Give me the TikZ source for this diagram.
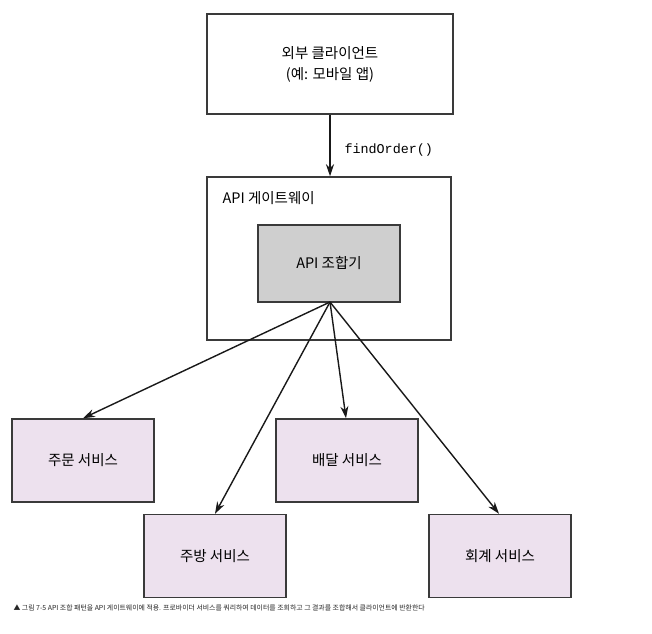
\documentclass[tikz,border=0pt]{standalone}
\usepackage{fontspec}
\setmainfont{Noto Sans CJK KR}
\newfontfamily\monof{Liberation Mono}
\usetikzlibrary{arrows.meta}
\definecolor{svcfill}{HTML}{EDE1EE}
\definecolor{aggfill}{HTML}{CFCFCF}
\definecolor{boxline}{HTML}{3A3A3A}
\begin{document}
\begin{tikzpicture}[x=1pt,y=-1pt,
  box/.style={draw=boxline,line width=1.5pt,inner sep=0pt},
  svc/.style={box,fill=svcfill,minimum width=142pt,minimum height=83pt,font=\fontsize{14.5}{17}\selectfont},
  conn/.style={line width=1.4pt,draw=black!90,-{Stealth[length=12pt,width=8pt]}}]
\useasboundingbox[fill=white] (0,0) rectangle (652,633);
\node[box,minimum width=246pt,minimum height=100pt,align=center,font=\fontsize{14.5}{21}\selectfont] (client) at (330,64) {외부 클라이언트\\(예: 모바일 앱)};
\node[box,minimum width=244pt,minimum height=163pt] (gw) at (329,258.5) {};
\node[anchor=base west,font=\fontsize{14.5}{17}\selectfont] (gwl) at (219,203) {API 게이트웨이};
\node[box,fill=aggfill,minimum width=142pt,minimum height=77pt,font=\fontsize{14.5}{17}\selectfont] (agg) at (329,263.5) {API 조합기};
\node[svc] (order) at (83,460.5) {주문 서비스};
\node[svc] (deliv) at (347,460.5) {배달 서비스};
\node[svc] (kitch) at (215,556) {주방 서비스};
\node[svc] (acct) at (500,556) {회계 서비스};
\coordinate (src) at (330,302);
\draw[conn] (client.south) -- (client.south |- gw.north);
\node[anchor=base west,font=\monof\fontsize{13.4}{16}\selectfont] (fo) at (341,153) {findOrder()};
\draw[conn] (src) -- (order.north);
\draw[conn] (src) -- (kitch.north);
\draw[conn] (src) -- (deliv.north -| 346,0);
\draw[conn] (src) -- (acct.north -| 499,0);
\node[anchor=base west,font=\fontsize{6.9}{8}\selectfont,text=black!85] (cap) at (10,610) {▲ 그림 7-5 API 조합 패턴을 API 게이트웨이에 적용. 프로바이더 서비스를 쿼리하여 데이터를 조회하고 그 결과를 조합해서 클라이언트에 반환한다};
\end{tikzpicture}
\end{document}
